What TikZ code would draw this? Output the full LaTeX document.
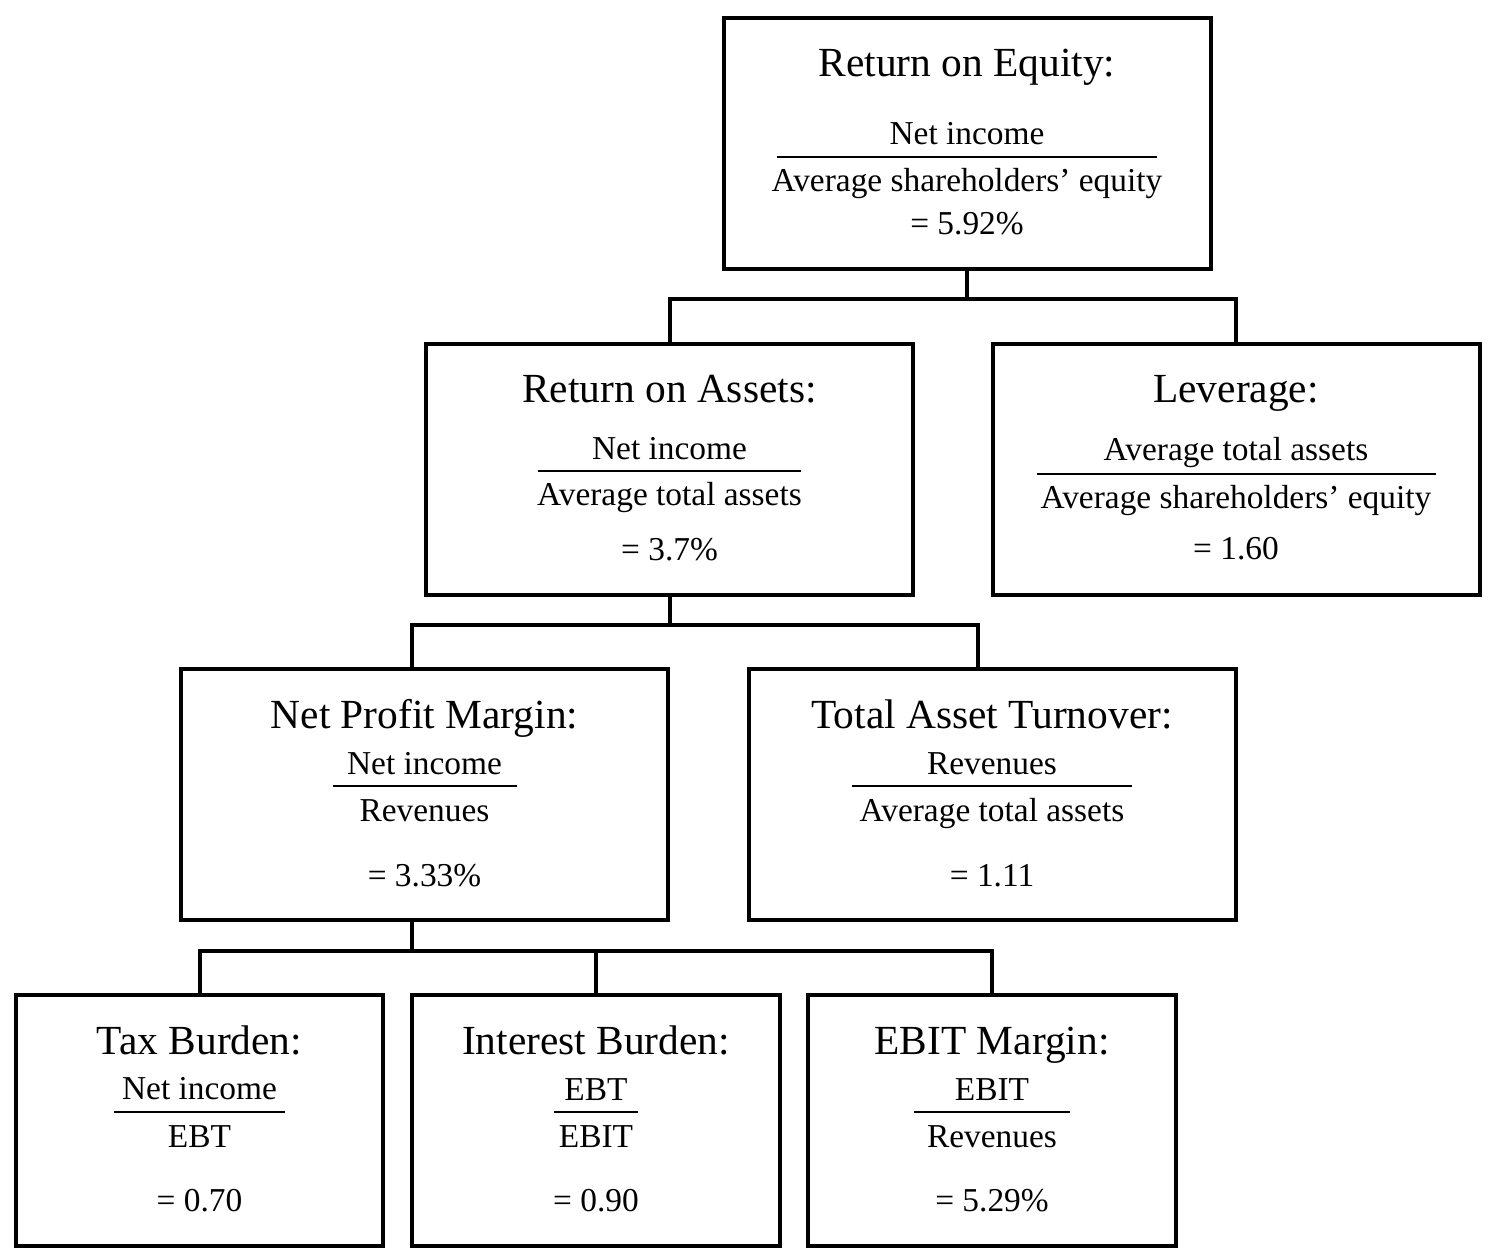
\documentclass[tikz,border=0pt]{standalone}
\usepackage{fontspec}
\setmainfont{Liberation Serif}
\begin{document}
\begin{tikzpicture}[x=0.5pt,y=-0.5pt,
  box/.style={draw=black,line width=2pt,rectangle,minimum width=243.5pt,minimum height=125.5pt,inner sep=0pt},
  sbox/.style={box,minimum width=183.75pt},
  ttl/.style={anchor=base,inner sep=0pt,font=\fontsize{20.7}{24}\selectfont},
  txt/.style={anchor=base,inner sep=0pt,font=\fontsize{16.7}{20}\selectfont},
  bar/.style={line width=1pt},
  conn/.style={line width=2pt}]
\useasboundingbox (0,0) rectangle (1498,1258);

% boxes
\node[box] (roe) at (967,143) {};
\node[box] (roa) at (669.5,469) {};
\node[box] (lev) at (1236,469) {};
\node[box] (npm) at (424.5,794.5) {};
\node[box] (tat) at (992,794.5) {};
\node[sbox] (tax) at (199.5,1120) {};
\node[sbox] (int) at (596,1120) {};
\node[sbox] (ebit) at (992,1120) {};

% ROE
\node[ttl] (roeT) at (967,76) {Return on Equity:};
\node[txt] (roeN) at (967,144) {Net income};
\draw[bar] (777,157) -- (1157,157);
\node[txt] (roeD) at (967,191) {Average shareholders’ equity};
\node[txt] (roeV) at (967,234) {= 5.92\%};

% ROA
\node[ttl] (roaT) at (669.5,402) {Return on Assets:};
\node[txt] (roaN) at (669.5,459) {Net income};
\draw[bar] (538,471) -- (801,471);
\node[txt] (roaD) at (669.5,505) {Average total assets};
\node[txt] (roaV) at (669.5,560) {= 3.7\%};

% Leverage
\node[ttl] (levT) at (1236,402) {Leverage:};
\node[txt] (levN) at (1236,460) {Average total assets};
\draw[bar] (1037,474) -- (1436,474);
\node[txt] (levD) at (1236,508) {Average shareholders’ equity};
\node[txt] (levV) at (1236,559) {= 1.60};

% NPM
\node[ttl] (npmT) at (424.5,728) {Net Profit Margin:};
\node[txt] (npmN) at (424.5,774) {Net income};
\draw[bar] (333,786) -- (517,786);
\node[txt] (npmD) at (424.5,821) {Revenues};
\node[txt] (npmV) at (424.5,886) {= 3.33\%};

% TAT
\node[ttl] (tatT) at (992,728) {Total Asset Turnover:};
\node[txt] (tatN) at (992,774) {Revenues};
\draw[bar] (852,786) -- (1132,786);
\node[txt] (tatD) at (992,821) {Average total assets};
\node[txt] (tatV) at (992,886) {= 1.11};

% Tax
\node[ttl] (taxT) at (199.5,1054) {Tax Burden:};
\node[txt] (taxN) at (199.5,1099) {Net income};
\draw[bar] (114,1112) -- (285,1112);
\node[txt] (taxD) at (199.5,1147) {EBT};
\node[txt] (taxV) at (199.5,1211) {= 0.70};

% Interest
\node[ttl] (intT) at (596,1054) {Interest Burden:};
\node[txt] (intN) at (596,1100) {EBT};
\draw[bar] (554,1112) -- (638,1112);
\node[txt] (intD) at (596,1147) {EBIT};
\node[txt] (intV) at (596,1211) {= 0.90};

% EBIT
\node[ttl] (ebitT) at (992,1054) {EBIT Margin:};
\node[txt] (ebitN) at (992,1100) {EBIT};
\draw[bar] (914,1112) -- (1070,1112);
\node[txt] (ebitD) at (992,1147) {Revenues};
\node[txt] (ebitV) at (992,1211) {= 5.29\%};

% connectors
\coordinate (j1) at (967,299);
\coordinate (j2) at (669.5,625);
\coordinate (j3) at (411.5,951);
\draw[conn] (roe.south) -- (j1);
\draw[conn] (roa.north) |- (j1) -| (lev.north);
\draw[conn] (roa.south) -- (j2);
\draw[conn] ([xshift=-6.5pt]npm.north) |- (j2) -| ([xshift=-7pt]tat.north);
\draw[conn] ([xshift=-6.5pt]npm.south) -- (j3);
\draw[conn] (tax.north) |- (j3) -| (ebit.north);
\draw[conn] (int.north) -- (int.north |- j3);
\end{tikzpicture}
\end{document}
